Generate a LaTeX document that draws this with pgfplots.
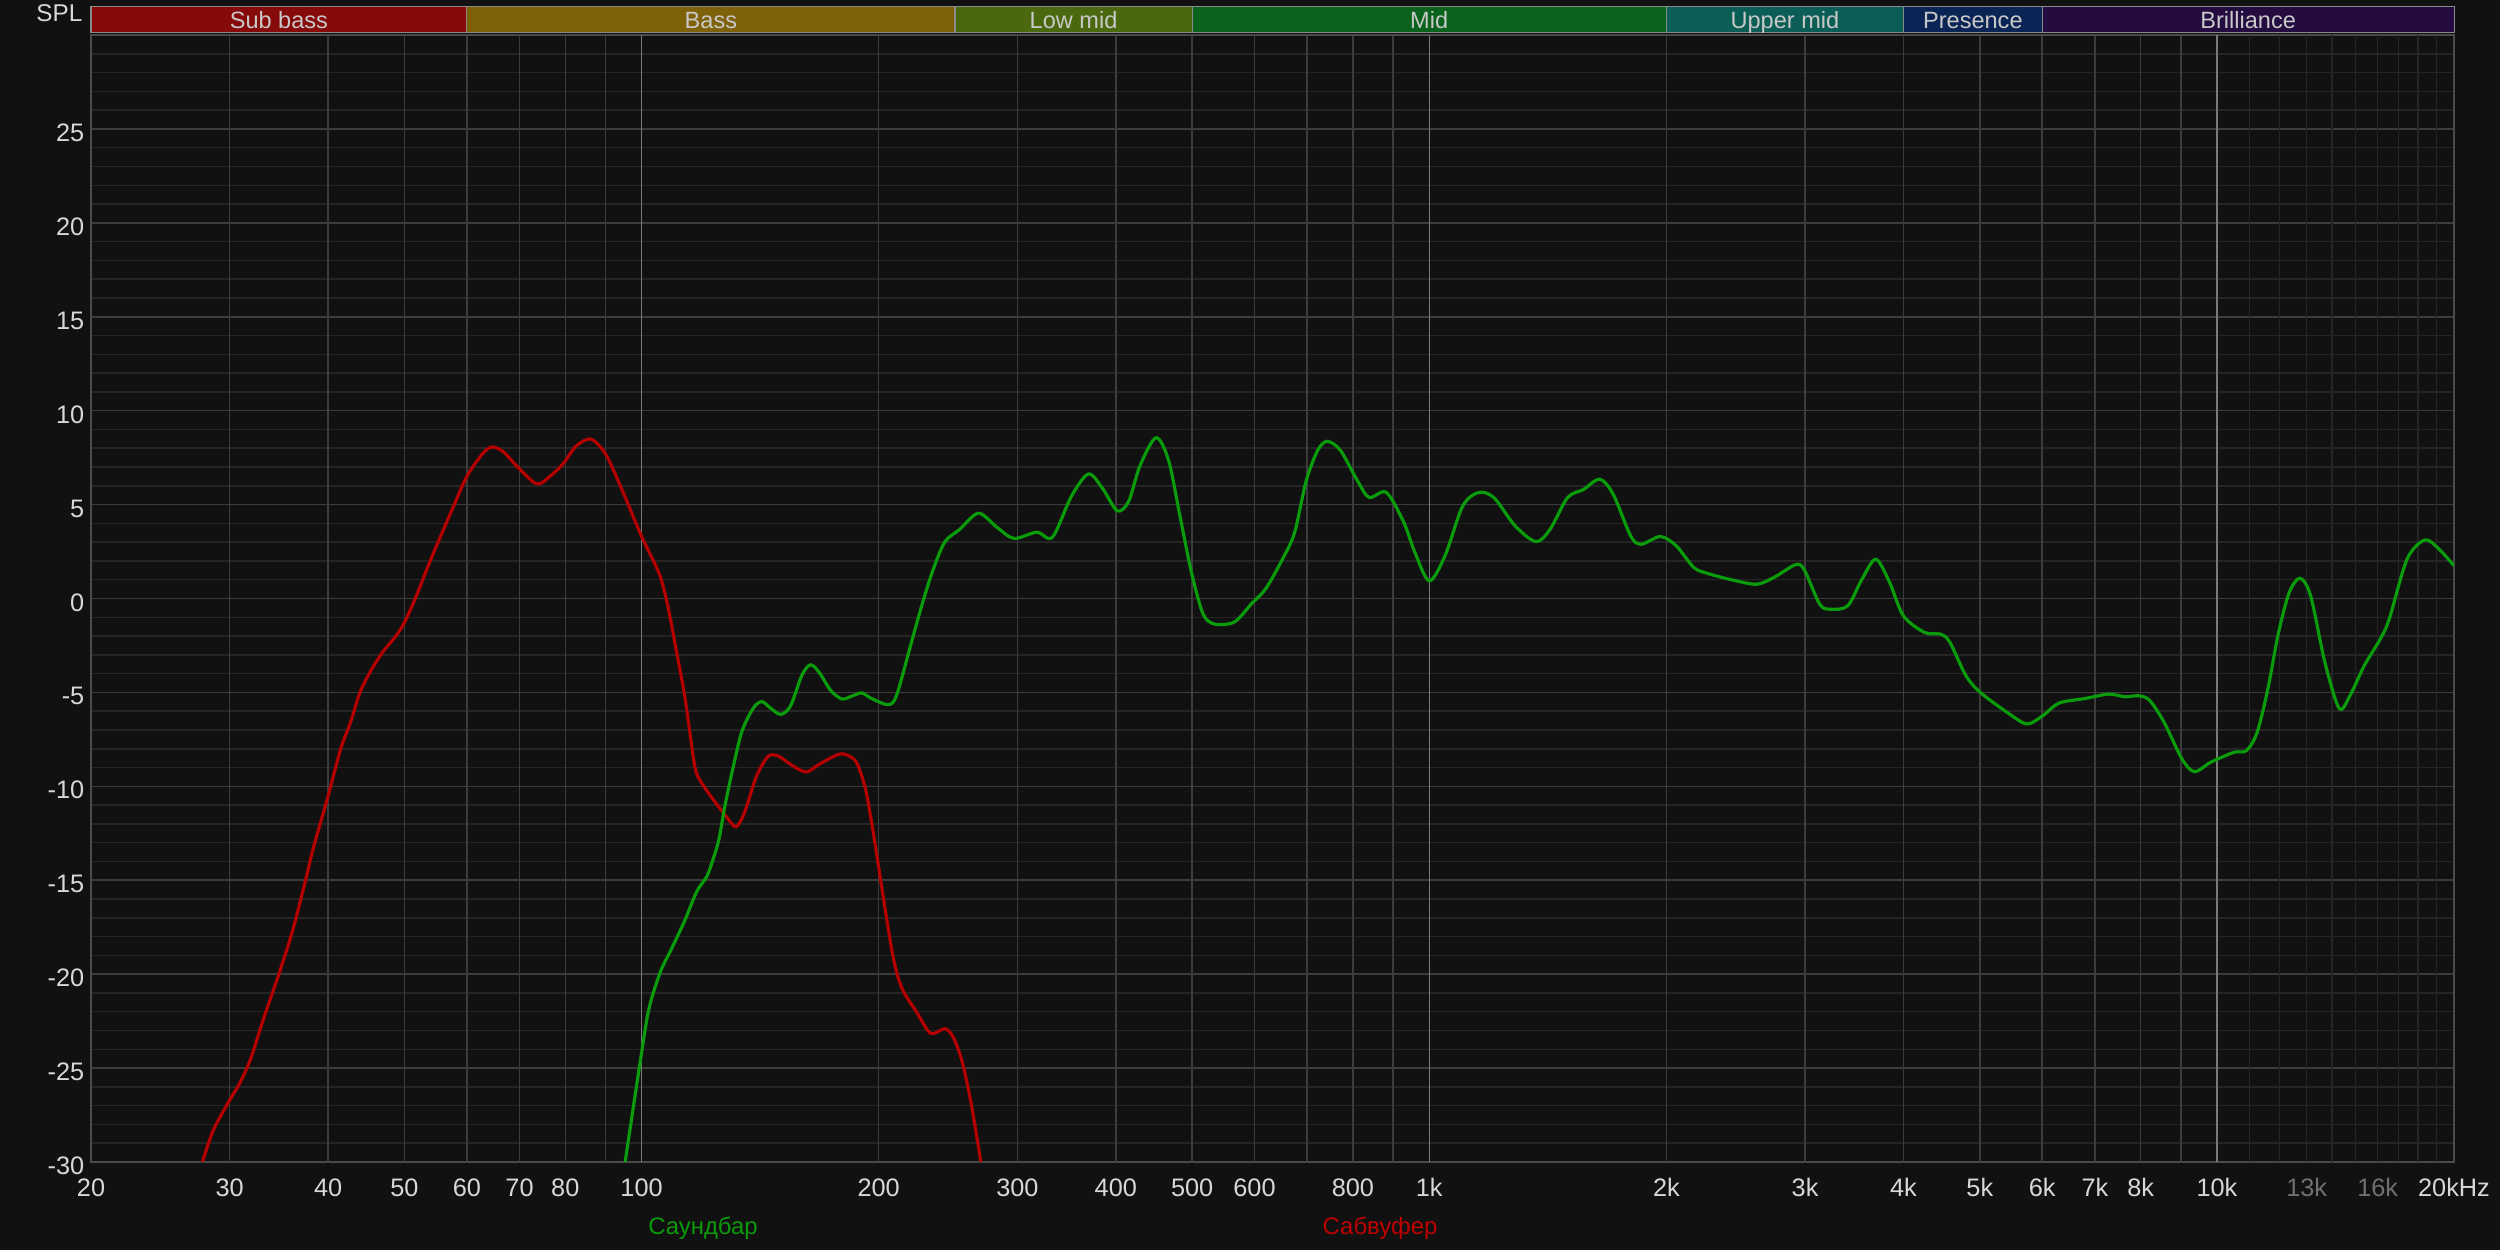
\documentclass[border=0pt]{standalone}
\usepackage{fontspec}
\setmainfont{Liberation Sans}
\usepackage{pgfplots}
\pgfplotsset{compat=1.18}
\definecolor{bg}{HTML}{111111}
\definecolor{gridmaj}{HTML}{3C3C3C}
\definecolor{gridmin}{HTML}{252525}
\definecolor{gridbright}{HTML}{7A7A7A}
\definecolor{framec}{HTML}{4A4A4A}
\definecolor{ticktxt}{HTML}{D8D8D8}
\definecolor{dimtxt}{HTML}{707070}
\definecolor{bandtxt}{HTML}{C8C8C8}
\definecolor{bandborder}{HTML}{8A8A8A}
\definecolor{redc}{HTML}{B40000}
\definecolor{greenc}{HTML}{0A9C0A}
\definecolor{redtxt}{HTML}{C00000}
\definecolor{greentxt}{HTML}{0A9A0A}
\definecolor{bSub}{HTML}{870A0A}
\definecolor{bBass}{HTML}{7F610A}
\definecolor{bLow}{HTML}{4A690E}
\definecolor{bMid}{HTML}{0B621C}
\definecolor{bUp}{HTML}{0B5E56}
\definecolor{bPres}{HTML}{0B2456}
\definecolor{bBril}{HTML}{240B40}
\begin{document}
\begin{tikzpicture}
\path[use as bounding box, fill=bg] (-0.91,-0.88) rectangle (24.09,11.62);
\begin{axis}[
  at={(0,0)}, anchor=south west,
  scale only axis, width=23.63cm, height=11.27cm,
  xmode=log, xmin=20, xmax=20000, ymin=-30, ymax=30,
  axis background/.style={fill=bg},
  axis line style={draw=framec, line width=0.6pt},
  major tick length=0pt, minor tick length=0pt,
  tick style={draw=none},
  xtick={20,30,40,50,60,70,80,100,200,300,400,500,600,800,1000,2000,3000,4000,5000,6000,7000,8000,10000,13000,16000,20000},
  xticklabels={20,30,40,50,60,70,80,100,200,300,400,500,600,800,1k,2k,3k,4k,5k,6k,7k,8k,10k,\textcolor{dimtxt}{13k},\textcolor{dimtxt}{16k},20kHz},
  ytick={-30,-25,...,30},
  yticklabels={-30,-25,-20,-15,-10,-5,0,5,10,15,20,25,{}},
  minor y tick num=4,
  ymajorgrids, yminorgrids,
  major grid style={draw=gridmaj, line width=0.43pt},
  minor grid style={draw=gridmin, line width=0.43pt},
  xticklabel style={font=\fontsize{7.2}{8}\selectfont, text=ticktxt, anchor=base, inner sep=0pt, yshift=-3.5mm},
  yticklabel style={font=\fontsize{7.2}{8}\selectfont, text=ticktxt, anchor=base east, inner sep=0pt, xshift=-0.6mm, yshift=-1.25mm},
]
\pgfplotsinvokeforeach{11000,12000,13000,14000,15000,16000,17000,18000,19000}{
  \addplot[draw=gridmin, line width=0.43pt, forget plot] coordinates {(#1,-30) (#1,30)};
}
\pgfplotsinvokeforeach{30,40,50,60,70,80,90,200,300,400,500,600,700,800,900,2000,3000,4000,5000,6000,7000,8000,9000}{
  \addplot[draw=gridmaj, line width=0.43pt, forget plot] coordinates {(#1,-30) (#1,30)};
}
\pgfplotsinvokeforeach{100,1000,10000}{
  \addplot[draw=gridbright, line width=0.43pt, forget plot] coordinates {(#1,-30) (#1,30)};
}
% Сабвуфер
\addplot[draw=redc, line width=0.9pt, smooth] coordinates {
(27.7,-30) (28.6,-28.3) (30,-26.7) (30.9,-25.8) (31.9,-24.5) (33.1,-22.4) (34.7,-19.9) (36.1,-17.6) (37.5,-14.9) (38.3,-13.3) (40,-10.5) (41.5,-8.0) (42.7,-6.6) (43.9,-5.0) (45.2,-3.93) (46.9,-2.86) (48.8,-1.98) (50,-1.27) (51.6,0) (53.6,1.75) (54.9,2.8) (57.7,4.9) (60,6.5) (62.8,7.7) (64.6,8.07) (66.8,7.8) (69.6,7.0) (73.6,6.1) (76.5,6.5) (79.6,7.2) (82.5,8.1) (85.9,8.5) (88.5,8.1) (90.8,7.4) (95.3,5.4) (100,3.3) (105.2,1.36) (107.8,-0.27) (110.6,-2.7) (113.4,-5.16) (115.3,-7.3) (117.2,-9.2) (120.2,-10.05) (124.3,-10.9) (128.6,-11.7) (131.8,-12.15) (135.1,-11.4) (139.8,-9.5) (144.6,-8.42) (148.8,-8.37) (154.6,-8.83) (161.6,-9.24) (168,-8.83) (176.8,-8.34) (181.2,-8.29) (187.3,-8.7) (192.2,-10.05) (195.5,-11.7) (198.8,-13.6) (203.9,-16.6) (209.1,-19.3) (214.3,-20.8) (223.3,-22.0) (232.8,-23.15) (242.7,-22.9) (249,-23.4) (255.4,-24.7) (262.1,-26.9) (269.6,-30)
};
% Саундбар
\addplot[draw=greenc, line width=0.9pt, smooth] coordinates {
(95.3,-30) (99.4,-24.9) (102.1,-21.9) (105.6,-19.9) (109,-18.7) (113.3,-17.2) (117.5,-15.6) (121,-14.8) (123.2,-13.9) (125.4,-12.8) (127.5,-11.1) (130.7,-8.97) (134.1,-7.07) (138.6,-5.84) (142.1,-5.49) (145.8,-5.84) (150.2,-6.17) (154.6,-5.71) (159.8,-4.08) (163.9,-3.53) (168.1,-3.94) (173.8,-4.89) (179.7,-5.35) (185.8,-5.16) (190.5,-5.03) (195.4,-5.3) (205.5,-5.65) (210.7,-5.16) (219.7,-2.45) (227.2,-0.27) (234.9,1.63) (242.9,3.04) (253.3,3.67) (267.7,4.54) (282.4,3.8) (296.9,3.2) (317.6,3.53) (332.3,3.26) (351.2,5.43) (369.3,6.63) (385.1,5.84) (401.5,4.67) (415.2,5.16) (429.3,7.07) (449.9,8.56) (466.8,7.34) (482.7,4.35) (499.2,1.36) (516.2,-0.82) (533.8,-1.36) (565.7,-1.25) (595,-0.27) (620.5,0.54) (652.5,2.17) (674.8,3.53) (697.7,6.25) (721.5,7.88) (742.3,8.37) (771.5,7.88) (811.2,6.25) (838.8,5.38) (882,5.65) (927.6,4.08) (958.9,2.45) (1000,0.94) (1047,2.27) (1102,4.9) (1154,5.64) (1208,5.37) (1285,3.87) (1366,3.03) (1424,3.69) (1498,5.37) (1569,5.8) (1646,6.35) (1712,5.55) (1802,3.33) (1858,2.89) (1966,3.3) (2059,2.8) (2167,1.65) (2258,1.33) (2424,0.99) (2603,0.76) (2739,1.12) (2914,1.79) (2990,1.56) (3131,-0.3) (3230,-0.57) (3398,-0.39) (3543,1.03) (3690,2.09) (3842,0.85) (3999,-0.92) (4255,-1.81) (4463,-1.9) (4582,-2.34) (4801,-4.11) (5006,-5.0) (5415,-6.06) (5735,-6.68) (6011,-6.24) (6300,-5.57) (6810,-5.32) (7290,-5.09) (7641,-5.23) (7967,-5.18) (8221,-5.44) (8571,-6.6) (9031,-8.55) (9367,-9.22) (9817,-8.72) (10508,-8.19) (10899,-8.1) (11246,-7.13) (11604,-4.82) (11973,-1.81) (12354,0.32) (12746,1.08) (13151,0.14) (13711,-3.4) (14295,-5.85) (14750,-5.18) (15380,-3.58) (16119,-2.16) (16546,-1.1) (17432,2.09) (18366,3.12) (19149,2.62) (20000,1.74)
};
\end{axis}
% frequency band bar
\foreach \a/\b/\c/\lbl in {0/3.758/bSub/Sub bass, 3.758/8.640/bBass/Bass, 8.640/11.011/bLow/Low mid, 11.011/15.753/bMid/Mid, 15.753/18.125/bUp/Upper mid, 18.125/19.512/bPres/Presence, 19.512/23.63/bBril/Brilliance}{
  \filldraw[fill=\c, draw=bandborder, line width=0.3pt] (\a,11.297) rectangle (\b,11.557);
  \node[anchor=base, inner sep=0pt, text=bandtxt, font=\fontsize{6.7}{7}\selectfont] at ({(\a+\b)/2},11.33) {\lbl};
}
\node[anchor=base east, inner sep=0pt, text=ticktxt, font=\fontsize{6.9}{7}\selectfont] at (-0.08,11.40) {SPL};
% legend
\node[anchor=base, inner sep=0pt, text=greentxt, font=\fontsize{6.8}{7}\selectfont] at (6.12,-0.73) {Саундбар};
\node[anchor=base, inner sep=0pt, text=redtxt, font=\fontsize{6.8}{7}\selectfont] at (12.89,-0.73) {Сабвуфер};
\end{tikzpicture}
\end{document}
